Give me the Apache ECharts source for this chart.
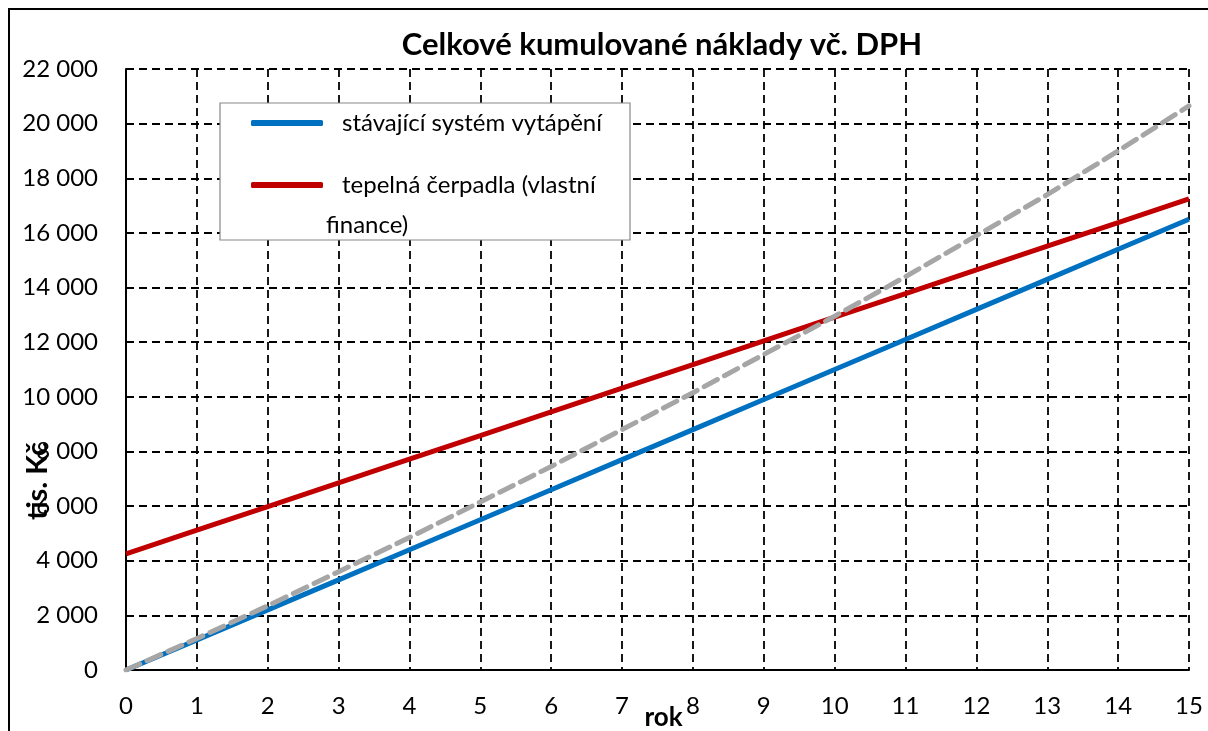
<!DOCTYPE html>
<html>
<head>
<meta charset="utf-8">
<script src="https://cdn.jsdelivr.net/npm/echarts@6/dist/echarts.min.js"></script>
<style>
  html, body { margin: 0; padding: 0; background: #fff; }
  #chart { width: 1208px; height: 731px; }
</style>
</head>
<body>
<div id="chart"></div>
<script>
  // roky 0..15
  const years = [0, 1, 2, 3, 4, 5, 6, 7, 8, 9, 10, 11, 12, 13, 14, 15];

  // tis. Kč
  const stavajici = [0, 1100, 2200, 3300, 4400, 5500, 6600, 7700, 8800, 9900, 11000, 12100, 13200, 14300, 15400, 16500];
  const tepelna = [4250, 5120, 5980, 6850, 7720, 8580, 9450, 10320, 11180, 12050, 12920, 13780, 14650, 15520, 16380, 17250];
  const seda = [0, 1150, 2350, 3600, 4850, 6150, 7450, 8800, 10150, 11550, 12950, 14400, 15900, 17400, 19000, 20650];

  const names = ['stávající systém vytápění', 'tepelná čerpadla (vlastní'];

  const font = 'Lato, "Open Sans", sans-serif';

  const chart = echarts.init(document.getElementById('chart'));

  function fmt(v) {
    return String(v).replace(/\B(?=(\d{3})+(?!\d))/g, ' ');
  }

  const option = {
    animation: false,
    textStyle: { fontFamily: font },
    title: {
      text: 'Celkové kumulované náklady vč. DPH',
      left: 657,
      top: 24,
      textAlign: 'center',
      textStyle: { fontFamily: font, fontSize: 31, fontWeight: 'bold', color: '#000' }
    },
    grid: { left: 126, right: 19, top: 69, bottom: 61, outerBoundsMode: 'none' },
    legend: {
      data: names,
      orient: 'vertical',
      left: 246,
      top: 106,
      itemGap: 38,
      itemWidth: 72,
      itemHeight: 6,
      icon: 'roundRect',
      z: 20,
      textStyle: { fontFamily: font, fontSize: 24, color: '#000', padding: [0, 0, 0, 14] }
    },
    xAxis: {
      type: 'value',
      min: 0,
      max: 15,
      interval: 1,
      name: 'rok',
      nameLocation: 'middle',
      nameGap: 35,
      nameMoveOverlap: false,
      nameTextStyle: { fontFamily: font, fontSize: 26, fontWeight: 'bold', color: '#000', padding: [0, 0, 0, 12] },
      axisLine: { onZero: false, lineStyle: { color: '#000', width: 2 } },
      axisTick: { show: false },
      axisLabel: { fontFamily: font, fontSize: 24, color: '#000', margin: 24 },
      splitLine: { show: true, lineStyle: { color: '#000', type: [8, 5], width: 1.8 } }
    },
    yAxis: {
      type: 'value',
      min: 0,
      max: 22000,
      interval: 2000,
      axisLine: { show: true, lineStyle: { color: '#000', width: 2 } },
      axisTick: { show: false },
      axisLabel: { fontFamily: font, fontSize: 24, color: '#000', margin: 28, formatter: fmt },
      splitLine: { show: true, lineStyle: { color: '#000', type: [8, 5], width: 1.8 } }
    },
    graphic: [
      {
        type: 'rect',
        shape: { x: 9, y: 9, width: 1220, height: 740 },
        style: { fill: 'none', stroke: '#000', lineWidth: 2 },
        z: 1
      },
      {
        type: 'rect',
        shape: { x: 220, y: 103, width: 410, height: 137 },
        style: { fill: '#fff', stroke: '#888', lineWidth: 1.2 },
        z: 15
      },
      {
        type: 'text',
        left: 326,
        top: 213,
        z: 20,
        style: { text: 'finance)', fontFamily: font, fontSize: 24, fill: '#000' }
      },
      {
        type: 'text',
        x: 38,
        y: 481,
        rotation: Math.PI / 2,
        z: 20,
        style: {
          text: 'tis. Kč',
          fontFamily: font,
          fontSize: 29,
          fontWeight: 'bold',
          fill: '#000',
          align: 'center',
          verticalAlign: 'middle'
        }
      }
    ],
    series: [
      {
        name: names[0],
        type: 'line',
        data: years.map((y, i) => [y, stavajici[i]]),
        showSymbol: false,
        lineStyle: { color: '#0070C0', width: 5 },
        itemStyle: { color: '#0070C0' },
        z: 3
      },
      {
        name: names[1],
        type: 'line',
        data: years.map((y, i) => [y, tepelna[i]]),
        showSymbol: false,
        lineStyle: { color: '#C00000', width: 5 },
        itemStyle: { color: '#C00000' },
        z: 3
      },
      {
        name: 'srovnání',
        type: 'line',
        data: years.map((y, i) => [y, seda[i]]),
        showSymbol: false,
        lineStyle: { color: '#A6A6A6', width: 5, type: [15, 8], cap: 'round' },
        itemStyle: { color: '#A6A6A6' },
        z: 4
      }
    ]
  };

  chart.setOption(option);
</script>
</body>
</html>
